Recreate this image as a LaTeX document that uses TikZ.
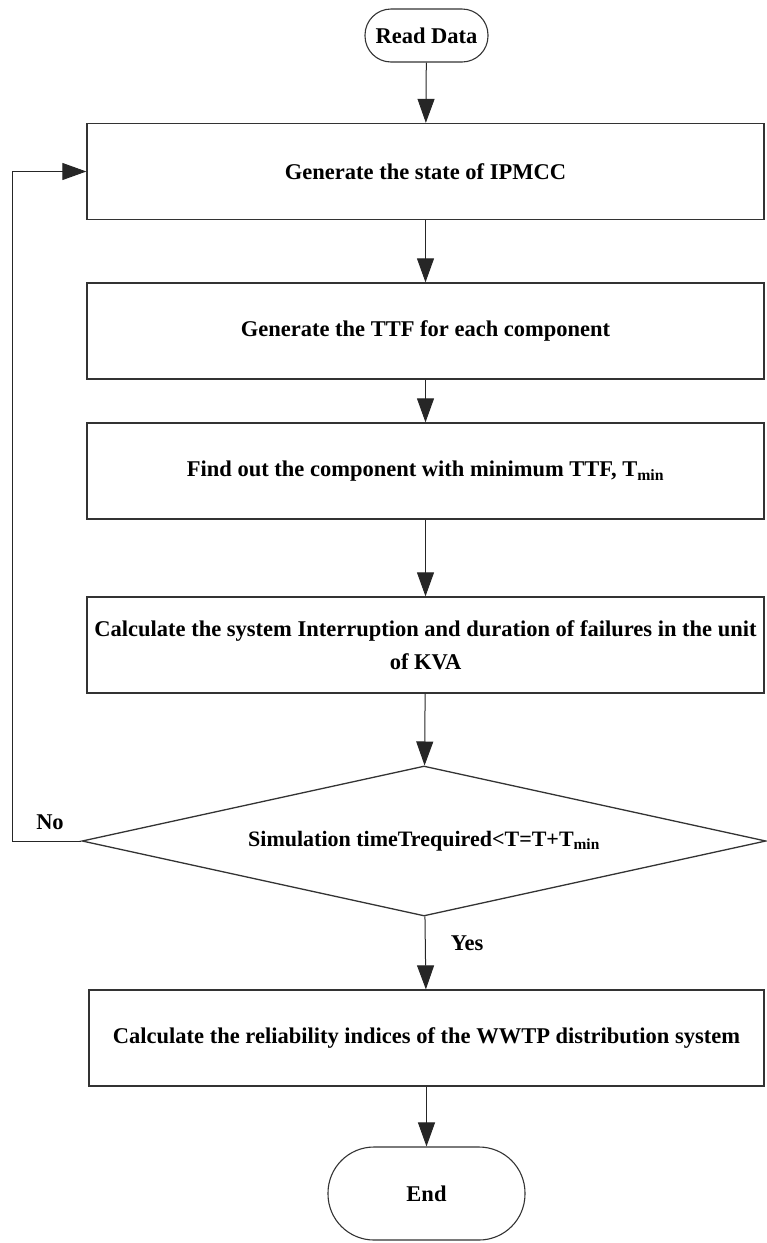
\documentclass[tikz,border=0pt]{standalone}
\usepackage{fontspec}
\setmainfont{Liberation Serif}
\usepackage{tikz}
\usetikzlibrary{shapes.geometric, arrows.meta}
\tikzset{
 box/.style={draw=black!80, line width=1.3pt, rectangle, minimum width=677pt, minimum height=96pt, inner sep=0pt, align=center, font=\fontsize{22.5}{33}\selectfont\bfseries},
 term/.style={draw=black!80, line width=1.1pt, rectangle, rounded corners=26pt, inner sep=0pt, font=\fontsize{22.5}{26}\selectfont\bfseries},
 decide/.style={draw=black!80, line width=1.3pt, diamond, inner sep=0pt, minimum width=684pt, minimum height=150pt, aspect=4.56, font=\fontsize{22}{26}\selectfont\bfseries},
 flow/.style={-{Triangle[length=24pt, width=17pt]}, line width=1pt, black!85},
 lbl/.style={font=\fontsize{22.5}{26}\selectfont\bfseries}
}

\begin{document}
\begin{tikzpicture}[x=1pt, y=-1pt]
 \useasboundingbox (0,0) rectangle (767,1243);

 \node[term, minimum width=123pt, minimum height=53pt] (read) at (426.5,35.5) {Read Data};
 \node[box] (state) at (425.5,171.5) {Generate the state of IPMCC};
 \node[box] (ttf) at (425.5,331) {Generate the TTF for each component};
 \node[box] (tmin) at (425.5,471) {Find out the component with minimum TTF, T\textsubscript{min}};
 \node[box] (interr) at (425.5,645) {Calculate the system Interruption and duration of failures in the unit\\of KVA};
 \node[decide] (sim) at (424,841) {Simulation timeTrequired<T=T+T\textsubscript{min}};
 \node[box, minimum width=675pt] (indices) at (426.5,1038) {Calculate the reliability indices of the WWTP distribution system};
 \node[term, rounded corners=46pt, minimum width=197pt, minimum height=93pt] (end) at (426.5,1193.5) {End};

 \coordinate (back) at (12,841);

 \draw[flow] (read) -- (state);
 \draw[flow] (state) -- (ttf);
 \draw[flow] (ttf) -- (tmin);
 \draw[flow] (tmin) -- (interr);
 \draw[flow] (interr) -- (sim);
 \draw[flow] (sim) -- (indices);
 \draw[flow] (indices) -- (end);
 \draw[flow] (sim.west) -- (back) |- (state.west);

 \node[lbl] (no) at (50,822) {No};
 \node[lbl] (yes) at (467,943) {Yes};

\end{tikzpicture}
\end{document}
